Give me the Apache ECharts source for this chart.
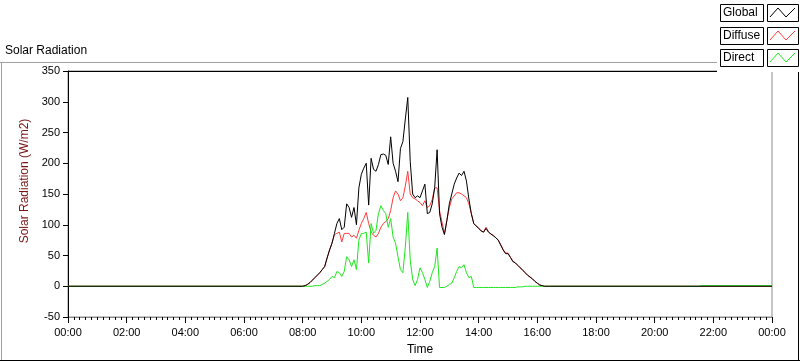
<!DOCTYPE html>
<html>
<head>
<meta charset="utf-8">
<script src="https://cdn.jsdelivr.net/npm/echarts@6/dist/echarts.min.js"></script>
<style>
  html, body { margin: 0; padding: 0; background: #fff; }
  #solar { width: 800px; height: 361px; }
</style>
</head>
<body>
<div id="solar"></div>
<script>
// minutes since midnight, 5 min samples from 08:00 to 16:30
const dayStart = 480;
const dayStep = 5;

const globalDay = [
  0, 1, 3, 6, 10, 14, 18, 22, 27, 32, 46, 59,            // 08
  70, 86, 102, 110, 92, 96, 134, 128, 112, 128, 100, 160, // 09
  182, 192, 200, 132, 208, 190, 187, 198, 214, 215, 213, 198, // 10
  243, 200, 187, 170, 224, 235, 272, 307, 203, 150, 144, 147, // 11
  144, 155, 166, 118, 120, 134, 160, 222, 118, 96, 84, 107,   // 12
  134, 150, 166, 176, 184, 180, 187, 171, 142, 118, 102, 98,  // 13
  94, 90, 88, 94, 88, 85, 82, 79, 75, 67, 59, 53,             // 14
  53, 47, 40, 38, 34, 30, 26, 22, 18, 15, 12, 8,              // 15
  5, 2, 1, 0, 0, 0, 0                                          // 16
];

const diffuseDay = [
  0, 1, 3, 6, 10, 14, 18, 22, 27, 32, 46, 59,
  70, 84, 86, 88, 72, 86, 86, 86, 80, 83, 78, 91,
  102, 110, 120, 102, 88, 83, 80, 86, 96, 102, 105, 110,
  123, 144, 155, 150, 139, 144, 163, 187, 150, 144, 142, 139,
  136, 131, 139, 128, 131, 141, 160, 160, 123, 104, 86, 107,
  128, 142, 147, 152, 152, 150, 147, 144, 134, 118, 102, 98,
  95, 90, 88, 96, 89, 85, 83, 79, 75, 68, 60, 54,
  54, 47, 41, 38, 34, 30, 27, 22, 18, 15, 12, 8,
  5, 2, 1, 0, 0, 0, 0
];

const directDay = [
  0, 0, 0, 0, 0, 1, 1, 1, 3, 5, 8, 11,
  16, 14, 24, 22, 16, 24, 48, 43, 32, 43, 27, 75,
  86, 86, 88, 38, 102, 86, 91, 118, 131, 123, 118, 96,
  110, 80, 70, 48, 27, 22, 64, 120, 43, 11, 1, 11,
  30, 22, 11, -2, 8, 22, 32, 62, -2, -2, -2, 0,
  3, 5, 14, 24, 32, 30, 35, 22, 14, 16, -2, -2,
  -2, -2, -2, -2, -2, -2, -2, -2, -2, -2, -2, -2,
  -2, -2, -2, -2, -1, -1, -1, 0, 0, 0, 0, 0,
  0, 0, 0, 0, 0, 0, 0
];

// late evening direct readings sit just above zero
const nightTimes = [1290, 1295, 1440];
const directNight = [0, 1, 1];

function toPairs(values) {
  const out = [[0, 0]];
  values.forEach((v, i) => out.push([dayStart + i * dayStep, v]));
  return out;
}

function hhmm(v) {
  const h = Math.floor(v / 60) % 24;
  const m = v % 60;
  return String(h).padStart(2, '0') + ':' + String(m).padStart(2, '0');
}

const globalData = toPairs(globalDay).concat([[1440, 0]]);
const diffuseData = toPairs(diffuseDay).concat([[1440, 0]]);
const directData = toPairs(directDay).concat(nightTimes.map((t, i) => [t, directNight[i]]));

const font = 'Liberation Sans';

// legend rows drawn LabVIEW style: a boxed name then a boxed zigzag swatch
const legendNames = ['Global', 'Diffuse', 'Direct'];
const legendColors = ['#000000', '#ff3b3b', '#1ee61e'];
const legendTops = [4, 27, 49];

const legendGraphic = [{
  type: 'rect', z: 100,
  shape: {x: 717, y: 0, width: 83, height: 72},
  style: {fill: '#ffffff'}
}];
legendNames.forEach((name, i) => {
  const y = legendTops[i];
  legendGraphic.push({
    type: 'rect', z: 101,
    shape: {x: 720.5, y: y + 0.5, width: 43, height: 17},
    style: {fill: '#ffffff', stroke: '#000', lineWidth: 1}
  });
  legendGraphic.push({
    type: 'text', z: 102, x: 723, y: y + 9,
    style: {text: name, fill: '#000', font: '12px ' + font, verticalAlign: 'middle'}
  });
  legendGraphic.push({
    type: 'rect', z: 101,
    shape: {x: 767.5, y: y + 0.5, width: 31, height: 17},
    style: {fill: '#ffffff', stroke: '#000', lineWidth: 1}
  });
  legendGraphic.push({
    type: 'polyline', z: 102,
    shape: {points: [[770, y + 13], [778, y + 4], [786, y + 13], [795, y + 4]]},
    style: {stroke: legendColors[i], lineWidth: 1, fill: null}
  });
});

const frameGraphic = [
  {type: 'line', z: 50, shape: {x1: 0, y1: 62.5, x2: 800, y2: 62.5}, style: {stroke: '#a0a0a0', lineWidth: 1}},
  {type: 'line', z: 50, shape: {x1: 1.5, y1: 62, x2: 1.5, y2: 361}, style: {stroke: '#a0a0a0', lineWidth: 1}},
  {type: 'line', z: 50, shape: {x1: 0, y1: 360.5, x2: 800, y2: 360.5}, style: {stroke: '#000', lineWidth: 1}},
  {type: 'line', z: 50, shape: {x1: 798.5, y1: 62, x2: 798.5, y2: 361}, style: {stroke: '#000', lineWidth: 1}},
  {type: 'text', z: 50, x: 5, y: 51,
    style: {text: 'Solar Radiation', fill: '#000', font: '12px ' + font, verticalAlign: 'middle'}}
];

const chart = echarts.init(document.getElementById('solar'), null, {renderer: 'canvas'});
chart.setOption({
  animation: false,
  backgroundColor: '#ffffff',
  textStyle: {fontFamily: font},
  grid: {
    left: 68, right: 28, top: 71, bottom: 39,
    show: true, borderColor: '#8c8c8c', borderWidth: 1, backgroundColor: '#fff'
  },
  graphic: frameGraphic.concat(legendGraphic),
  xAxis: [{
    type: 'value', position: 'bottom',
    min: 0, max: 1440, interval: 120,
    name: 'Time', nameLocation: 'middle', nameGap: 27,
    nameTextStyle: {color: '#000', fontSize: 12, fontFamily: font},
    axisLine: {show: true, onZero: false, lineStyle: {color: '#8c8c8c', width: 1}},
    axisTick: {show: true, length: 6, lineStyle: {color: '#000'}},
    minorTick: {show: true, splitNumber: 10, length: 3, lineStyle: {color: '#000'}},
    axisLabel: {color: '#000', fontSize: 11, margin: 10, formatter: hhmm, fontFamily: font},
    splitLine: {show: false}
  }, {
    type: 'value', position: 'top',
    min: 0, max: 1440,
    axisLine: {show: true, onZero: false, lineStyle: {color: '#000', width: 1}},
    axisTick: {show: false}, axisLabel: {show: false}, splitLine: {show: false}
  }],
  yAxis: {
    type: 'value',
    min: -50, max: 350, interval: 50,
    name: 'Solar Radiation (W/m2)', nameLocation: 'middle', nameGap: 28,
    nameTextStyle: {color: '#7a1414', fontSize: 12, fontFamily: font, padding: [0, 0, 0, 26]},
    axisLine: {show: true, onZero: false, lineStyle: {color: '#000', width: 1}},
    axisTick: {show: true, length: 5, lineStyle: {color: '#000'}},
    axisLabel: {color: '#000', fontSize: 11, margin: 8, fontFamily: font},
    splitLine: {show: false}
  },
  series: [
    {
      name: 'Diffuse', type: 'line', data: diffuseData, z: 2,
      showSymbol: false, symbol: 'none',
      lineStyle: {color: legendColors[1], width: 1}
    },
    {
      name: 'Direct', type: 'line', data: directData, z: 3,
      showSymbol: false, symbol: 'none',
      lineStyle: {color: legendColors[2], width: 1}
    },
    {
      name: 'Global', type: 'line', data: globalData, z: 4,
      showSymbol: false, symbol: 'none',
      lineStyle: {color: legendColors[0], width: 1}
    }
  ]
});
</script>
</body>
</html>
